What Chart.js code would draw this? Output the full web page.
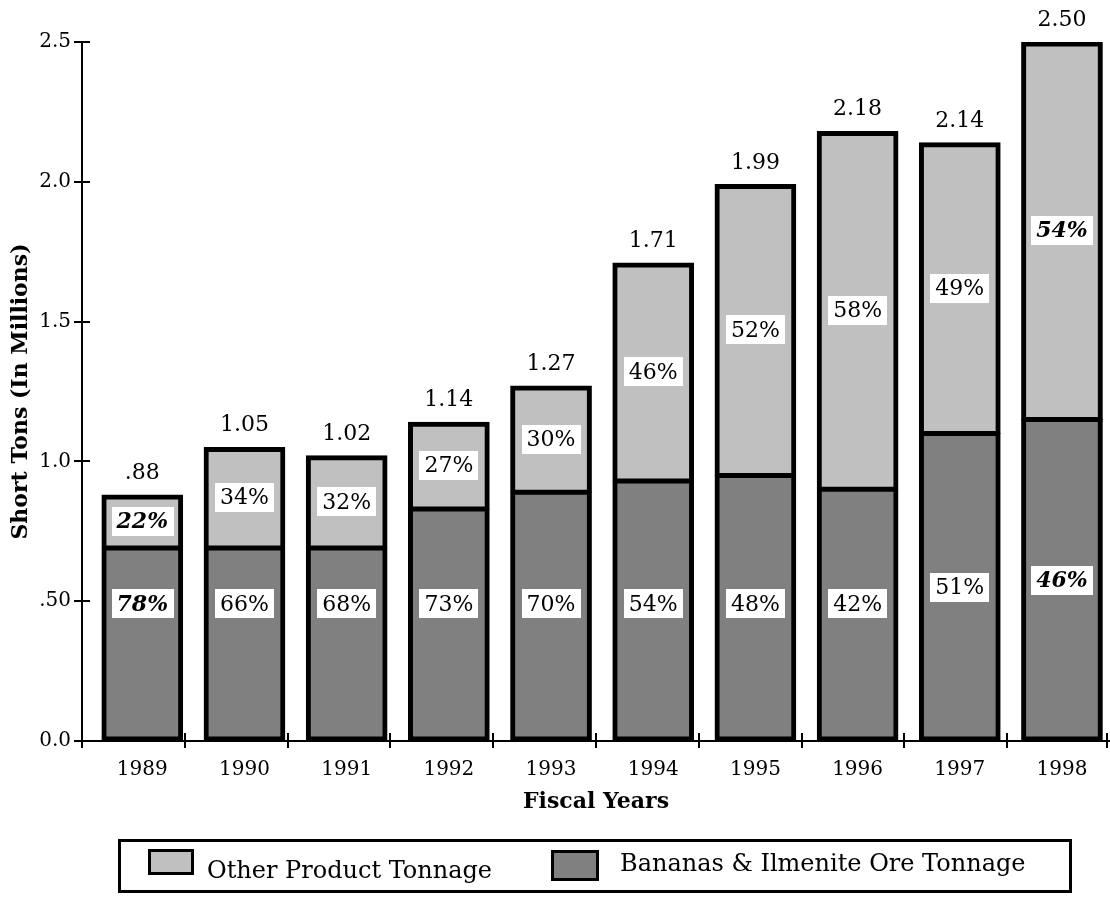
<!DOCTYPE html>
<html>
<head>
<meta charset="utf-8">
<script src="https://cdn.jsdelivr.net/npm/chart.js@4.4.1/dist/chart.umd.min.js"></script>
<style>
  html, body { margin: 0; padding: 0; background: #ffffff; }
  canvas { display: block; }
</style>
</head>
<body>
<canvas id="chart" width="1110" height="898"></canvas>
<script>
// Fiscal years shown on the category axis
const years = ['1989', '1990', '1991', '1992', '1993', '1994', '1995', '1996', '1997', '1998'];

// Tonnage in millions of short tons
const bananaIlmeniteTons = [0.69, 0.69, 0.69, 0.83, 0.89, 0.93, 0.95, 0.90, 1.10, 1.15];
const otherProductTons   = [0.19, 0.36, 0.33, 0.31, 0.38, 0.78, 1.04, 1.28, 1.04, 1.35];

// Share of each year's total carried by each segment
const bananaIlmenitePct = ['78%', '66%', '68%', '73%', '70%', '54%', '48%', '42%', '51%', '46%'];
const otherProductPct   = ['22%', '34%', '32%', '27%', '30%', '46%', '52%', '58%', '49%', '54%'];

// Years whose share labels are set in bold italic
const emphasizedYears = ['1989', '1998'];

// Value-axis tick labels
const yTickValues = [0, 0.5, 1.0, 1.5, 2.0, 2.5];
const yTickLabels = ['0.0', '.50', '1.0', '1.5', '2.0', '2.5'];

const SERIF = "'DejaVu Serif', 'Liberation Serif', serif";
const LIGHT = '#c0c0c0';
const DARK = '#808080';

function formatTotal(v) {
  const s = v.toFixed(2);
  return v < 1 ? s.slice(1) : s;
}

// Percent boxes inside the segments and totals above each stack
const barLabels = {
  id: 'barLabels',
  afterDatasetsDraw(chart) {
    const ctx = chart.ctx;
    const yScale = chart.scales.y;
    const baseMeta = chart.getDatasetMeta(0);
    const otherMeta = chart.getDatasetMeta(1);
    ctx.save();
    ctx.textAlign = 'center';
    ctx.textBaseline = 'middle';
    years.forEach((yr, i) => {
      const b = baseMeta.data[i].getProps(['x', 'y', 'base'], true);
      const o = otherMeta.data[i].getProps(['x', 'y', 'base'], true);
      const emph = emphasizedYears.includes(yr);
      ctx.font = (emph ? 'italic bold ' : '') + '22px ' + SERIF;

      const drawBox = (text, cx, cy) => {
        const w = ctx.measureText(text).width + 10;
        const h = 29;
        ctx.fillStyle = '#ffffff';
        ctx.fillRect(Math.round(cx - w / 2), Math.round(cy - h / 2), Math.round(w), h);
        ctx.fillStyle = '#000000';
        ctx.fillText(text, cx, cy + 1);
      };

      // upper segment: centred in the segment
      drawBox(otherProductPct[i], o.x, (o.y + o.base) / 2);
      // lower segment: centred, but never below the .49 level
      const baseVal = bananaIlmeniteTons[i];
      const labelVal = Math.max(baseVal / 2, 0.49);
      drawBox(bananaIlmenitePct[i], b.x, yScale.getPixelForValue(labelVal));

      // stack total above the bar
      const total = bananaIlmeniteTons[i] + otherProductTons[i];
      ctx.font = '22px ' + SERIF;
      ctx.fillStyle = '#000000';
      ctx.textBaseline = 'alphabetic';
      ctx.fillText(formatTotal(total), o.x, yScale.getPixelForValue(total) - 16);
      ctx.textBaseline = 'middle';
    });
    ctx.restore();
  }
};

// Tick marks that cross both axis lines, plus the boxed legend
const axisMarksAndLegend = {
  id: 'axisMarksAndLegend',
  afterDraw(chart) {
    const ctx = chart.ctx;
    const { left, right, bottom } = chart.chartArea;
    const yScale = chart.scales.y;
    ctx.save();
    ctx.strokeStyle = '#000000';
    ctx.lineWidth = 2;
    ctx.beginPath();
    yTickValues.forEach(v => {
      const py = Math.round(yScale.getPixelForValue(v));
      ctx.moveTo(left - 8, py);
      ctx.lineTo(left + 8, py);
    });
    const segW = (right - left) / years.length;
    for (let k = 0; k <= years.length; k++) {
      const px = Math.round(left + k * segW) - (k === years.length ? 3 : 0);
      ctx.moveTo(px, bottom - 8);
      ctx.lineTo(px, bottom + 7);
    }
    ctx.stroke();

    // legend frame
    ctx.lineWidth = 3;
    ctx.strokeRect(119.5, 840.5, 951, 51);

    const ds = chart.data.datasets;
    const items = [
      { d: ds[1], sx: 149, sy: 850, sw: 44, sh: 24, tx: 207, ty: 872 },
      { d: ds[0], sx: 552, sy: 851, sw: 46, sh: 29, tx: 620, ty: 865 }
    ];
    ctx.font = '24px ' + SERIF;
    ctx.textAlign = 'left';
    ctx.textBaseline = 'middle';
    items.forEach(it => {
      ctx.fillStyle = it.d.backgroundColor;
      ctx.fillRect(it.sx, it.sy, it.sw, it.sh);
      ctx.lineWidth = 3;
      ctx.strokeStyle = '#000000';
      ctx.strokeRect(it.sx + 0.5, it.sy + 0.5, it.sw - 1, it.sh - 1);
      ctx.fillStyle = '#000000';
      ctx.fillText(it.d.label, it.tx, it.ty);
    });
    ctx.restore();
  }
};

new Chart(document.getElementById('chart'), {
  type: 'bar',
  data: {
    labels: years,
    datasets: [
      {
        label: 'Bananas & Ilmenite Ore Tonnage',
        data: bananaIlmeniteTons,
        backgroundColor: DARK,
        borderColor: '#000000',
        borderWidth: { top: 3, left: 5, right: 5, bottom: 5 },
        borderSkipped: false,
        inflateAmount: 0.5
      },
      {
        label: 'Other Product Tonnage',
        data: otherProductTons,
        backgroundColor: LIGHT,
        borderColor: '#000000',
        borderWidth: { top: 5, left: 5, right: 5, bottom: 3 },
        borderSkipped: false,
        inflateAmount: 0.5
      }
    ]
  },
  options: {
    responsive: false,
    animation: false,
    devicePixelRatio: 1,
    layout: { padding: { top: 42, right: 0, bottom: 78, left: 0 } },
    datasets: { bar: { categoryPercentage: 1.0, barPercentage: 0.79 } },
    plugins: {
      legend: { display: false },
      tooltip: { enabled: false }
    },
    scales: {
      x: {
        stacked: true,
        offset: true,
        grid: { display: false, drawTicks: false },
        border: { display: true, color: '#000000', width: 2 },
        // the first category sits a little further from the value axis than the last does from the edge
        afterBuildTicks(scale) {
          scale._startValue = -0.59;
          scale._valueRange = years.length + 0.06;
        },
        ticks: {
          color: '#000000',
          font: { family: SERIF, size: 20 },
          padding: 17,
          maxRotation: 0
        },
        title: {
          display: true,
          text: 'Fiscal Years',
          color: '#000000',
          font: { family: SERIF, size: 22, weight: 'bold' },
          padding: { top: 0, bottom: 5 }
        },
        afterFit(scale) { scale.height = 79; }
      },
      y: {
        stacked: true,
        min: 0,
        max: 2.5,
        grid: { display: false, drawTicks: false },
        border: { display: true, color: '#000000', width: 2 },
        afterBuildTicks(scale) {
          scale.ticks = yTickValues.map(v => ({ value: v }));
        },
        ticks: {
          color: '#000000',
          font: { family: SERIF, size: 20 },
          padding: 11,
          callback(value) {
            const idx = yTickValues.indexOf(value);
            return idx >= 0 ? yTickLabels[idx] : '';
          }
        },
        title: {
          display: true,
          text: 'Short Tons (In Millions)',
          color: '#000000',
          font: { family: SERIF, size: 22, weight: 'bold' },
          padding: { top: 8, bottom: 0 }
        },
        afterFit(scale) { scale.width = 82; }
      }
    }
  },
  plugins: [barLabels, axisMarksAndLegend]
});
</script>
</body>
</html>
